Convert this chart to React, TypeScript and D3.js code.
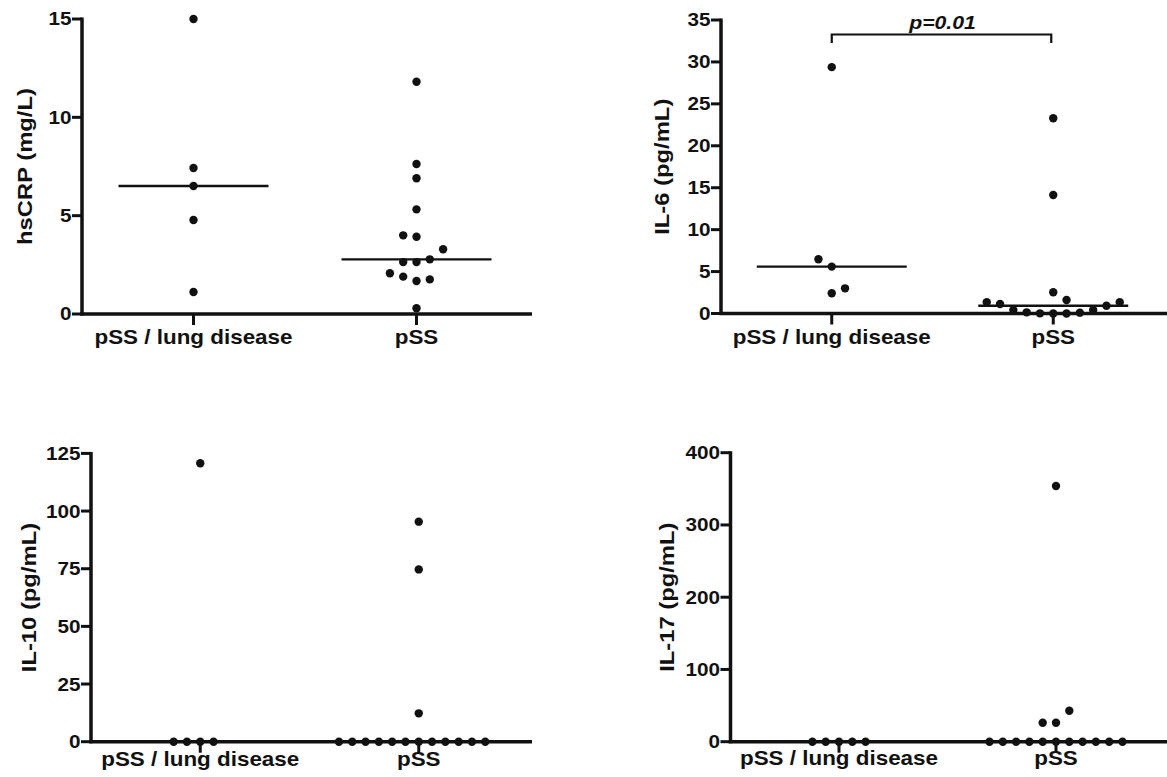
import React from "react";
import * as d3 from "d3";

// ---------- data ----------
const categories = ["pSS / lung disease", "pSS"];

const hsCrpLung = [15.0, 7.42, 6.51, 4.78, 1.12];
const hsCrpPss = [11.81, 7.63, 6.9, 5.32, 3.93, 4.0, 2.64, 2.78, 2.64, 1.68, 1.76, 1.9, 2.07, 3.29, 0.29];
const hsCrpTicks = [0, 5, 10, 15];

const il6Lung = [29.38, 5.59, 6.47, 2.41, 3.0];
const il6Pss = [23.29, 14.14, 2.53, 0.0, 0.02, 0.0, 0.14, 0.1, 0.42, 0.42, 1.61, 1.13, 0.93, 1.34, 1.34];
const il6Ticks = [0, 5, 10, 15, 20, 25, 30, 35];
const il6PValue = "p=0.01";

const il10Lung = [120.7, 0, 0, 0, 0];
const il10Pss = [95.4, 74.7, 12.3, 0, 0, 0, 0, 0, 0, 0, 0, 0, 0, 0, 0];
const il10Ticks = [0, 25, 50, 75, 100, 125];

const il17Lung = [0, 0, 0, 0, 0];
const il17Pss = [353.9, 0, 0, 0, 0, 0, 0, 0, 0, 0, 0, 0, 26.3, 26.3, 42.9];
const il17Ticks = [0, 100, 200, 300, 400];

// ---------- layout ----------
const FONT = "'Liberation Sans', Arial, Helvetica, sans-serif";
const INK = "#111";

type PanelCfg = {
  title: string;
  groups: number[][];
  ticks: number[];
  left: number;
  top: number;
  bottom: number;
  w: number;
  axisLen: number;
  titleGap: number;
  catGap: number;
  sig?: string;
};

const panels: PanelCfg[] = [
  { title: "hsCRP (mg/L)", groups: [hsCrpLung, hsCrpPss], ticks: hsCrpTicks, left: 82, top: 19, bottom: 314, w: 446, axisLen: 450, titleGap: 50, catGap: 30 },
  { title: "IL-6 (pg/mL)", groups: [il6Lung, il6Pss], ticks: il6Ticks, left: 721, top: 20, bottom: 313.5, w: 443, axisLen: 460, titleGap: 52, catGap: 30, sig: il6PValue },
  { title: "IL-10 (pg/mL)", groups: [il10Lung, il10Pss], ticks: il10Ticks, left: 91, top: 453.4, bottom: 741.7, w: 437, axisLen: 441, titleGap: 55, catGap: 24 },
  { title: "IL-17 (pg/mL)", groups: [il17Lung, il17Pss], ticks: il17Ticks, left: 730.5, top: 452.7, bottom: 741.7, w: 434, axisLen: 440, titleGap: 57, catGap: 23 },
];

const SLOT = 13.3;
const MIN_DY = 13;
const R = 4.2;
const MEDIAN_HALF = 75;

function swarm(vals: number[], y: (v: number) => number) {
  const placed: { slot: number; py: number }[] = [];
  return vals.map((v) => {
    const py = y(v);
    const free = (s: number) => {
      let m = Infinity;
      for (const p of placed) {
        if (p.slot === s) {
          const d = Math.abs(p.py - py);
          if (d < MIN_DY) return -1;
          m = Math.min(m, d);
        }
      }
      return m;
    };
    let slot = 0;
    if (free(0) < 0) {
      for (let k = 1; k < 60; k++) {
        const a = free(-k);
        const b = free(k);
        if (a < 0 && b < 0) continue;
        slot = b > a ? k : -k;
        break;
      }
    }
    placed.push({ slot, py });
    return { v, py, slot };
  });
}

function Panel({ cfg }: { cfg: PanelCfg }) {
  const maxV = cfg.ticks[cfg.ticks.length - 1];
  const y = d3.scaleLinear().domain([0, maxV]).range([cfg.bottom, cfg.top]);
  const x = d3.scalePoint<string>().domain(categories).range([cfg.left, cfg.left + cfg.w]).padding(0.5);
  const midY = (cfg.top + cfg.bottom) / 2;

  return (
    <g>
      {/* y-axis title */}
      <text
        transform={`translate(${cfg.left - cfg.titleGap},${midY}) rotate(-90) scale(1.22,1)`}
        textAnchor="middle"
        fontFamily={FONT}
        fontWeight="bold"
        fontSize={19.5}
        fill={INK}
      >
        {cfg.title}
      </text>

      {/* y ticks */}
      {cfg.ticks.map((t) => (
        <g key={t}>
          <line x1={cfg.left - 10} x2={cfg.left} y1={y(t)} y2={y(t)} stroke={INK} strokeWidth={3} />
          <text
            transform={`translate(${cfg.left - 10.5},${y(t)}) scale(1.15,1)`}
            textAnchor="end"
            dy="0.36em"
            fontFamily={FONT}
            fontWeight="bold"
            fontSize={18}
            fill={INK}
          >
            {t}
          </text>
        </g>
      ))}

      {/* axes */}
      <line x1={cfg.left} x2={cfg.left} y1={cfg.top - 1.5} y2={cfg.bottom + 1.5} stroke={INK} strokeWidth={3.5} />
      <line x1={cfg.left - 1.75} x2={cfg.left + cfg.axisLen} y1={cfg.bottom} y2={cfg.bottom} stroke={INK} strokeWidth={3.5} />

      {/* category ticks and labels */}
      {categories.map((c) => (
        <g key={c}>
          <line x1={x(c)!} x2={x(c)!} y1={cfg.bottom} y2={cfg.bottom + 11} stroke={INK} strokeWidth={3} />
          <text
            transform={`translate(${x(c)!},${cfg.bottom + cfg.catGap}) scale(1.15,1)`}
            textAnchor="middle"
            fontFamily={FONT}
            fontWeight="bold"
            fontSize={19.5}
            fill={INK}
          >
            {c}
          </text>
        </g>
      ))}

      {/* points and medians */}
      {cfg.groups.map((vals, gi) => {
        const cx = x(categories[gi])!;
        const pts = swarm(vals, y);
        const med = d3.median(vals)!;
        return (
          <g key={gi}>
            <line x1={cx - MEDIAN_HALF} x2={cx + MEDIAN_HALF} y1={y(med)} y2={y(med)} stroke={INK} strokeWidth={2.4} />
            {pts.map((p, i) => (
              <circle key={i} cx={cx + p.slot * SLOT} cy={p.py} r={R} fill={INK} />
            ))}
          </g>
        );
      })}

      {/* significance bracket */}
      {cfg.sig && (
        <g>
          <path
            d={`M${x(categories[0])!},${cfg.top + 23} V${cfg.top + 14.5} H${x(categories[1])! - 2} V${cfg.top + 23}`}
            fill="none"
            stroke={INK}
            strokeWidth={2.2}
          />
          <text
            transform={`translate(${(x(categories[0])! + x(categories[1])!) / 2},${cfg.top + 8.5}) scale(1.18,1)`}
            textAnchor="middle"
            fontFamily={FONT}
            fontWeight="bold"
            fontStyle="italic"
            fontSize={18}
            fill={INK}
          >
            {cfg.sig}
          </text>
        </g>
      )}
    </g>
  );
}

export default function App() {
  return (
    <svg
      width={1167}
      height={777}
      style={{ position: "absolute", left: 0, top: 0, background: "#fff" }}
    >
      <rect x={0} y={0} width={1167} height={777} fill="#fff" />
      {panels.map((p, i) => (
        <Panel key={i} cfg={p} />
      ))}
    </svg>
  );
}
